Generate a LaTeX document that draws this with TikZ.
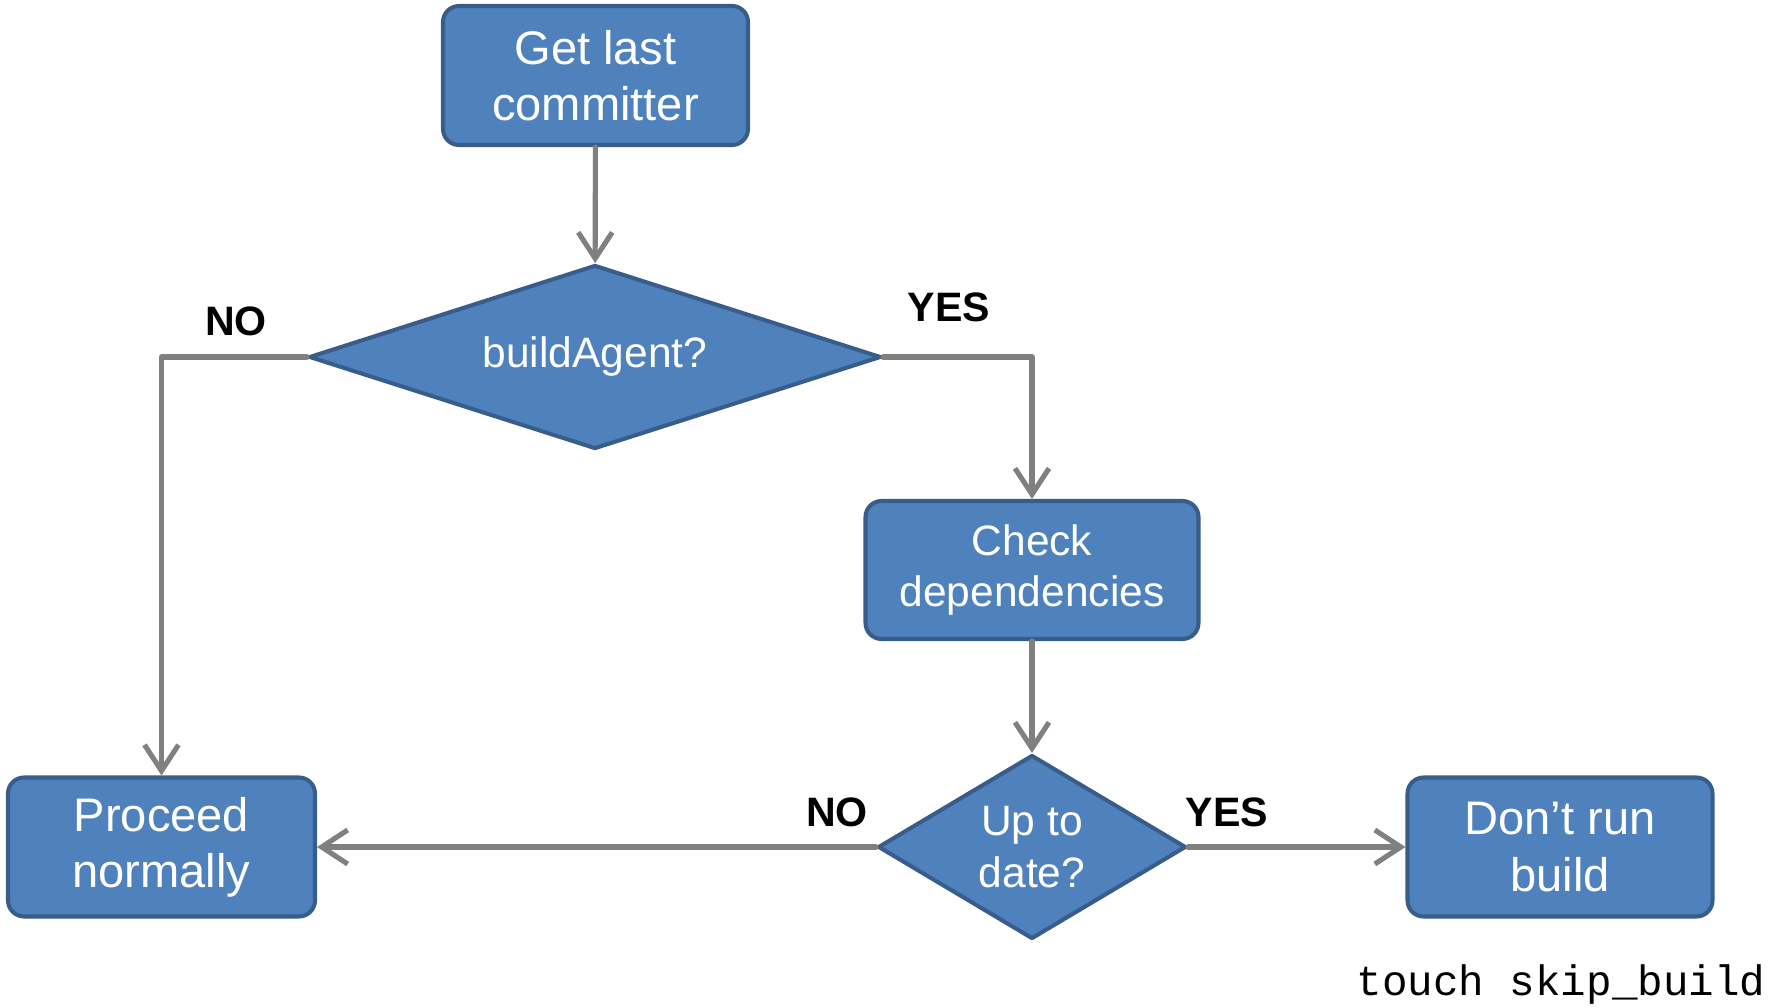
\documentclass[tikz,border=0pt]{standalone}
\usepackage{fontspec}
\setmainfont{Liberation Sans}
\setmonofont{Liberation Mono}
\usetikzlibrary{shapes.geometric,arrows.meta}
\definecolor{boxfill}{HTML}{4F81BD}
\definecolor{boxline}{HTML}{385D8A}
\definecolor{flowgray}{HTML}{808080}
\begin{document}
\begin{tikzpicture}[line join=round,line cap=round,
	>={Straight Barb[length=.26cm,width=.34cm]},
	stepbox/.style={draw=boxline,fill=boxfill,line width=1.15pt,rounded corners=.16cm,
		text=white,align=center,inner sep=0pt,font=\fontsize{13.4}{16}\selectfont},
	smallbox/.style={stepbox,font=\fontsize{12.1}{14.6}\selectfont},
	question/.style={diamond,draw=boxline,fill=boxfill,line width=1.15pt,text=white,
		align=center,inner sep=0pt,font=\fontsize{12.1}{14.6}\selectfont},
	flow/.style={draw=flowgray,line width=1.45pt,->},
	answer/.style={font=\fontsize{11.7}{14}\selectfont\bfseries}]
	\useasboundingbox (0,0) rectangle (17.81,10.07);
	\node[stepbox,minimum width=3.05cm,minimum height=1.39cm] (commit) at (5.955,9.315) {Get last\\committer};
	\node[question,aspect=3.1,minimum width=5.72cm,minimum height=1.84cm] (agent) at (5.95,6.50) {buildAgent?};
	\node[smallbox,minimum width=3.33cm,minimum height=1.38cm] (check) at (10.32,4.37) {Check\\dependencies};
	\node[question,aspect=1.67,minimum width=3.08cm,minimum height=1.84cm] (uptodate) at (10.32,1.60) {Up to\\date?};
	\node[stepbox,minimum width=3.07cm,minimum height=1.39cm] (proceed) at (1.615,1.60) {Proceed\\normally};
	\node[stepbox,minimum width=3.05cm,minimum height=1.39cm] (dontrun) at (15.60,1.60) {Don’t run\\build};
	\draw[flow] (commit) -- (agent);
	\draw[flow] (agent.west) -| (proceed.north);
	\draw[flow] (agent.east) -| (check.north);
	\draw[flow] (check) -- (uptodate);
	\draw[flow] (uptodate.west) -- (proceed.east);
	\draw[flow] (uptodate.east) -- (dontrun.west);
	\node[answer] (agentno) at (2.36,6.86) {NO};
	\node[answer] (agentyes) at (9.49,7.00) {YES};
	\node[answer] (dateno) at (8.37,1.95) {NO};
	\node[answer] (dateyes) at (12.27,1.95) {YES};
	\node[anchor=base,font=\ttfamily\fontsize{12.1}{14}\selectfont] (touch) at (15.61,0.12) {touch skip\_build};
\end{tikzpicture}
\end{document}
